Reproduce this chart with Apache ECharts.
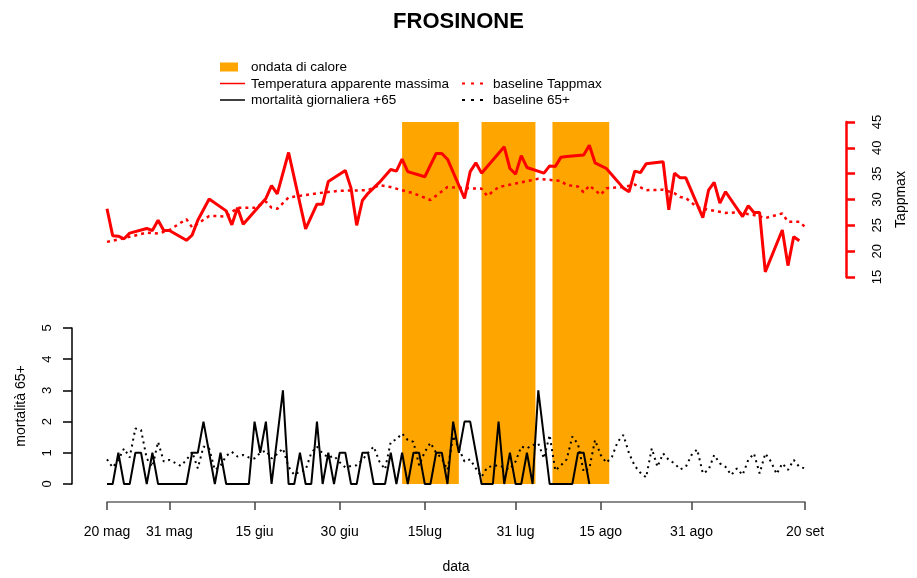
<!DOCTYPE html>
<html>
<head>
<meta charset="utf-8">
<script src="https://cdn.jsdelivr.net/npm/echarts@6/dist/echarts.min.js"></script>
<style>
html,body{margin:0;padding:0;background:#fff;}
#chart{width:917px;height:578px;}
</style>
</head>
<body>
<div id="chart"></div>
<script>
// Day index: 0 = 20 maggio, 123 = 20 settembre
const tickDays = [0, 11, 26, 41, 56, 72, 87, 103, 123];
const tickLabels = ['20 mag', '31 mag', '15 giu', '30 giu', '15lug', '31 lug', '15 ago', '31 ago', '20 set'];

// heat-wave periods [start day, end day]
const heatWaves = [[52, 62], [66, 75.5], [78.5, 88.5]];

// Temperatura apparente massima [day, °C]
const tappmax = [
  [0,28.2],[1,23.0],[2,22.9],[3,22.4],[4,23.5],[7,24.4],[8,24.0],[9,26.0],[10,24.0],[11,24.0],
  [14,22.1],[15,23.1],[16,26.0],[18,30.1],[21,27.8],[22,25.1],[23,28.4],[24,25.2],[28,30.2],
  [29,32.7],[30,31.1],[32,39.1],[35,24.3],[37,29.1],[38,29.1],[39,33.5],[42,35.6],[43,32.2],
  [44,25.0],[45,29.8],[46,31.2],[48,33.3],[50,35.8],[51,35.5],[52,37.8],[53,35.4],[56,34.4],
  [58,38.9],[59,38.9],[60,37.8],[63,30.2],[64,35.4],[65,37.1],[66,35.1],[70,40.2],[71,36.0],
  [72,34.9],[73,38.5],[74,36.2],[77,35.1],[78,36.5],[79,36.4],[80,38.2],[81,38.3],[84,38.6],
  [85,40.5],[86,37.1],[88,36.0],[91,32.2],[92,31.5],[93,35.5],[94,35.2],[95,36.9],[98,37.3],
  [99,28.0],[100,35.1],[101,34.2],[102,34.2],[105,26.5],[106,31.8],[107,33.3],[108,29.3],
  [109,31.5],[112,26.7],[113,28.8],[114,27.5],[115,27.5],[116,16.0],[119,24.1],[120,17.2],
  [121,22.8],[122,22.0]
];

// baseline Tappmax [day, °C]
const baselineTapp = [
  [0,21.8],[3,22.5],[7,23.6],[9,23.4],[11,24.1],[14,26.2],[15,24.6],[18,26.8],[19,26.8],[21,26.7],
  [23,28.4],[26,28.4],[28,29.6],[29,28.4],[30,28.2],[32,30.4],[34,30.7],[37,31.2],[41,31.7],
  [46,31.8],[48,32.8],[50,32.4],[52,31.8],[54,31.2],[57,29.9],[60,32.4],[63,32.2],[66,32.1],
  [67,30.7],[69,32.4],[72,33.1],[76,34.0],[80,33.6],[81,32.8],[83,32.5],[84,31.4],[85,32.7],
  [87,30.9],[88,32.2],[91,32.4],[93,32.9],[95,31.8],[98,31.9],[100,31.2],[101,30.5],[102,30.3],
  [104,28.5],[106,28.0],[109,27.4],[111,27.5],[114,27.0],[116,26.4],[119,27.3],[120,25.7],
  [122,25.7],[123,24.7]
];

// mortalità giornaliera +65 [day, deaths]
const mortality = [
  [0,0],[1,0],[2,1],[3,0],[4,0],[5,1],[6,1],[7,0],[8,1],[9,0],[10,0],[11,0],[12,0],[13,0],[14,0],
  [15,1],[16,1],[17,2],[18,1],[19,0],[20,1],[21,0],[22,0],[23,0],[24,0],[25,0],[26,2],[27,1],
  [28,2],[29,0],[31,3],[32,0],[33,0],[34,1],[35,0],[36,0],[37,2],[38,0],[39,1],[40,0],[41,1],
  [42,1],[43,0],[44,0],[45,1],[46,1],[47,0],[48,0],[49,0],[50,1],[51,0],[52,1],[53,0],[54,1],
  [55,1],[56,0],[57,0],[58,1],[59,1],[60,0],[61,2],[62,1],[63,2],[64,2],[65,1],[66,0],[67,0],
  [68,0],[69,2],[70,0],[71,1],[72,0],[73,0],[74,1],[75,0],[76,3],[78,0],[79,0],[80,0],[81,0],
  [82,0],[83,1],[84,1],[85,0]
];

// baseline 65+ (one value per day, from day 0)
const baseline65 = [
  0.79,0.53,0.77,1.14,0.85,1.78,1.73,0.82,0.55,1.35,0.72,0.77,0.68,0.58,0.77,1.03,0.50,1.20,1.14,0.45,
  0.58,0.90,1.03,0.88,0.93,0.85,0.82,1.00,1.07,0.82,0.96,1.14,0.55,0.29,0.40,0.45,1.00,1.20,0.98,0.85,
  0.90,0.70,0.53,0.58,0.60,0.77,1.00,1.20,0.72,0.47,1.35,1.43,1.62,1.41,1.35,0.60,1.03,1.32,1.00,0.82,
  0.45,1.54,1.14,0.72,0.79,0.50,0.23,0.53,0.58,0.60,0.53,0.47,0.72,1.20,1.14,1.25,1.30,0.82,1.57,0.43,
  0.60,0.79,1.52,1.28,0.39,0.50,1.41,0.93,0.68,0.88,1.36,1.57,0.98,0.58,0.36,0.21,1.14,0.55,0.98,0.77,
  0.66,0.47,0.55,0.93,1.11,0.34,0.45,0.93,0.66,0.55,0.29,0.50,0.29,0.77,0.98,0.34,0.98,0.72,0.32,0.66,
  0.45,0.77,0.55,0.50
];

const FONT = 'Liberation Sans';
const chart = echarts.init(document.getElementById('chart'), null, {renderer: 'canvas'});

const option = {
  animation: false,
  backgroundColor: '#ffffff',
  textStyle: {fontFamily: FONT},
  title: {
    text: 'FROSINONE', left: 'center', top: 6,
    textStyle: {fontFamily: FONT, fontSize: 22, fontWeight: 'bold', color: '#000'}
  },
  grid: [
    {left: 107, width: 698, top: 122, height: 155},
    {left: 107, width: 698, top: 328, height: 156},
    {left: 107, width: 698, top: 122, height: 362}
  ],
  xAxis: [
    {gridIndex: 0, type: 'value', min: 0, max: 123, show: false},
    {
      gridIndex: 1, type: 'value', min: 0, max: 123, offset: 18,
      name: 'data', nameLocation: 'middle', nameGap: 58,
      nameTextStyle: {fontFamily: FONT, fontSize: 14, color: '#000'},
      axisLine: {show: true, onZero: false, lineStyle: {color: '#666', width: 1.5}},
      axisTick: {show: true, length: 8, lineStyle: {color: '#444', width: 1.5}, customValues: tickDays},
      axisLabel: {
        fontFamily: FONT, fontSize: 14, color: '#000', margin: 23,
        customValues: tickDays,
        formatter: function (v) { const i = tickDays.indexOf(v); return i >= 0 ? tickLabels[i] : ''; }
      },
      splitLine: {show: false}
    },
    {gridIndex: 2, type: 'value', min: 0, max: 123, show: false}
  ],
  yAxis: [
    {
      gridIndex: 0, type: 'value', position: 'right', min: 15, max: 45, interval: 5, offset: 41,
      name: 'Tappmax', nameLocation: 'middle', nameGap: 48,
      nameTextStyle: {fontFamily: FONT, fontSize: 14, color: '#000'},
      axisLine: {show: true, onZero: false, lineStyle: {color: '#ff0000', width: 2.5}},
      axisTick: {show: true, length: 9, lineStyle: {color: '#ff0000', width: 2.5}},
      axisLabel: {fontFamily: FONT, fontSize: 13, color: '#000', rotate: 90, margin: 25},
      splitLine: {show: false}
    },
    {
      gridIndex: 1, type: 'value', position: 'left', min: 0, max: 5, interval: 1, offset: 35,
      name: 'mortalità 65+', nameLocation: 'middle', nameGap: 44,
      nameTextStyle: {fontFamily: FONT, fontSize: 14, color: '#000'},
      axisLine: {show: true, onZero: false, lineStyle: {color: '#000', width: 1.5}},
      axisTick: {show: true, length: 9, lineStyle: {color: '#000', width: 1.5}},
      axisLabel: {fontFamily: FONT, fontSize: 13, color: '#000', rotate: 90, margin: 18},
      splitLine: {show: false}
    },
    {gridIndex: 2, type: 'value', min: 0, max: 1, show: false}
  ],
  graphic: [
    {type: 'rect', shape: {x: 220, y: 62.5, width: 18, height: 9}, style: {fill: '#FFA500'}},
    {type: 'text', x: 251, y: 67, style: {text: 'ondata di calore', fontFamily: FONT, fontSize: 13.5, fill: '#000', verticalAlign: 'middle'}},
    {type: 'line', shape: {x1: 220, y1: 83.5, x2: 245, y2: 83.5}, style: {stroke: '#ff0000', lineWidth: 1.5}},
    {type: 'text', x: 251, y: 84, style: {text: 'Temperatura apparente massima', fontFamily: FONT, fontSize: 13.5, fill: '#000', verticalAlign: 'middle'}},
    {type: 'line', shape: {x1: 220, y1: 100, x2: 245, y2: 100}, style: {stroke: '#000', lineWidth: 1.5}},
    {type: 'text', x: 251, y: 100.5, style: {text: 'mortalità giornaliera +65', fontFamily: FONT, fontSize: 13.5, fill: '#000', verticalAlign: 'middle'}},
    {type: 'line', shape: {x1: 462, y1: 83.5, x2: 488, y2: 83.5}, style: {stroke: '#ff0000', lineWidth: 2, lineDash: [3, 6]}},
    {type: 'text', x: 493, y: 84, style: {text: 'baseline Tappmax', fontFamily: FONT, fontSize: 13.5, fill: '#000', verticalAlign: 'middle'}},
    {type: 'line', shape: {x1: 462, y1: 100, x2: 488, y2: 100}, style: {stroke: '#000', lineWidth: 2, lineDash: [3, 6]}},
    {type: 'text', x: 493, y: 100.5, style: {text: 'baseline 65+', fontFamily: FONT, fontSize: 13.5, fill: '#000', verticalAlign: 'middle'}}
  ],
  series: [
    {
      name: 'ondata di calore', type: 'custom', xAxisIndex: 2, yAxisIndex: 2, z: 1,
      data: heatWaves,
      renderItem: function (params, api) {
        const p1 = api.coord([api.value(0), 1]);
        const p2 = api.coord([api.value(1), 0]);
        return {type: 'rect', shape: {x: p1[0], y: p1[1], width: p2[0] - p1[0], height: p2[1] - p1[1]}, style: {fill: '#FFA500'}};
      },
      silent: true
    },
    {
      name: 'baseline Tappmax', type: 'line', xAxisIndex: 0, yAxisIndex: 0, z: 3,
      data: baselineTapp, symbol: 'none',
      lineStyle: {color: '#ff0000', width: 2.5, type: [3, 4]}
    },
    {
      name: 'Temperatura apparente massima', type: 'line', xAxisIndex: 0, yAxisIndex: 0, z: 4,
      data: tappmax, symbol: 'none',
      lineStyle: {color: '#ff0000', width: 3}
    },
    {
      name: 'baseline 65+', type: 'line', xAxisIndex: 1, yAxisIndex: 1, z: 3,
      data: baseline65.map(function (v, i) { return [i, v]; }), symbol: 'none',
      lineStyle: {color: '#000', width: 2, type: [2, 4]}
    },
    {
      name: 'mortalità giornaliera +65', type: 'line', xAxisIndex: 1, yAxisIndex: 1, z: 4,
      data: mortality, symbol: 'none',
      lineStyle: {color: '#000', width: 2}
    }
  ]
};
chart.setOption(option);
</script>
</body>
</html>
